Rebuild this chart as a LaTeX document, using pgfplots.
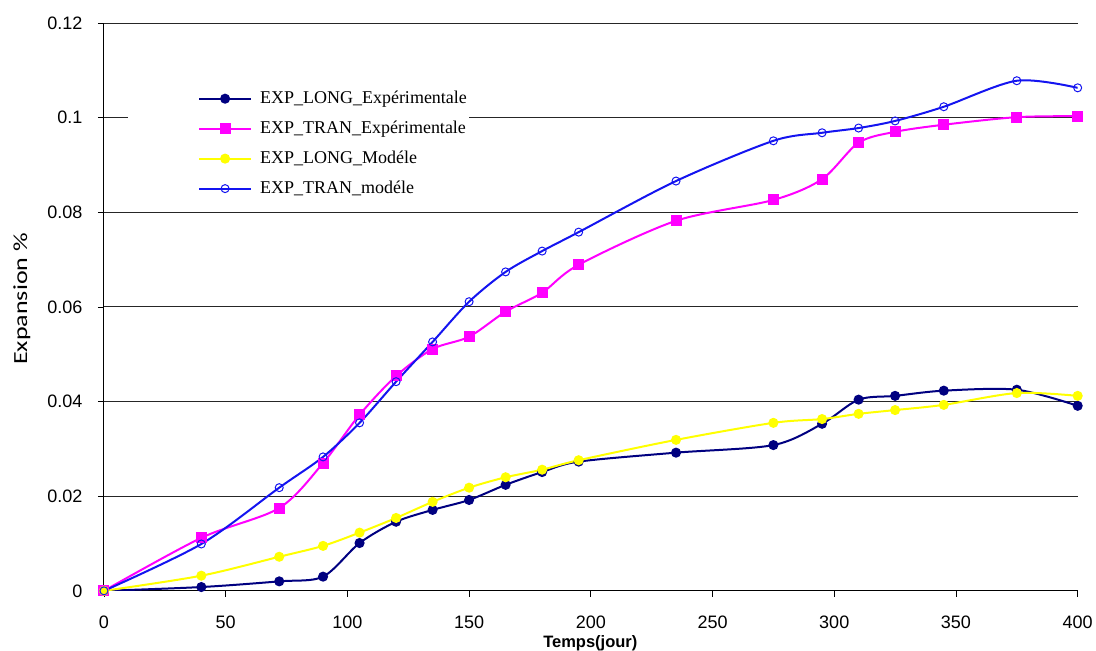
\documentclass[border=0pt]{standalone}
\usepackage{fontspec}
\setmainfont{Liberation Sans}
\newfontfamily\legfont{Liberation Serif}
\newfontfamily\ylabfont{Carlito}
\usepackage{graphicx}
\usepackage{pgfplots}
\pgfplotsset{compat=1.18}
\usepackage{pgfplotstable}
\definecolor{cnavy}{RGB}{0,0,128}
\definecolor{cmag}{RGB}{255,0,255}
\definecolor{cyel}{RGB}{255,255,0}
\definecolor{cblue}{RGB}{20,20,240}
\pgfplotstableread{
x y
0 0
40 0.0008
72 0.0020
90 0.0030
105 0.0101
120 0.0146
135 0.0171
150 0.0192
165 0.0224
180 0.0251
195 0.0273
235 0.0292
275 0.0308
295 0.0353
310 0.0404
325 0.0412
345 0.0423
375 0.0425
400 0.0391
}\longexp
\pgfplotstableread{
x y
0 0
40 0.0112
72 0.0175
90 0.0270
105 0.0372
120 0.0454
135 0.0511
150 0.0537
165 0.0590
180 0.0630
195 0.0689
235 0.0782
275 0.0826
295 0.0870
310 0.0947
325 0.0970
345 0.0985
375 0.1001
400 0.1003
}\tranexp
\pgfplotstableread{
x y
0 0
40 0.0032
72 0.0072
90 0.0095
105 0.0123
120 0.0154
135 0.0188
150 0.0218
165 0.0240
180 0.0256
195 0.0276
235 0.0319
275 0.0355
295 0.0363
310 0.0374
325 0.0382
345 0.0393
375 0.0418
400 0.0412
}\longmod
\pgfplotstableread{
x y
0 0
40 0.0099
72 0.0218
90 0.0283
105 0.0355
120 0.0442
135 0.0526
150 0.0611
165 0.0674
180 0.0718
195 0.0758
235 0.0866
275 0.0951
295 0.0968
310 0.0978
325 0.0993
345 0.1023
375 0.1078
400 0.1063
}\tranmod
\begin{document}
\begin{tikzpicture}
\begin{axis}[
  scale only axis,
  width=974bp, height=568bp,
  xmin=0, xmax=400, ymin=0, ymax=0.12,
  axis x line*=bottom, axis y line*=left,
  axis line style={black, line width=1bp},
  xtick={0,50,...,400},
  ytick={0,0.02,...,0.12},
  tick align=outside,
  major tick length=6bp,
  tick style={black, line width=0.8bp},
  ymajorgrids,
  grid style={black!85, line width=0.9bp},
  scaled y ticks=false,
  yticklabel style={/pgf/number format/fixed, /pgf/number format/precision=2, xshift=-12bp},
  xticklabel style={yshift=-16bp},
  /pgf/number format/assume math mode=true,
  ticklabel style={font=\fontsize{18bp}{21bp}\selectfont},
  xlabel={Temps(jour)},
  ylabel={\scalebox{1.3}[1]{Expansion \%}},
  xlabel style={font=\bfseries\fontsize{16.5bp}{19bp}\selectfont, at={(axis description cs:0.4995,-0.0915)}, anchor=center, inner sep=0pt},
  ylabel style={font=\ylabfont\fontsize{20bp}{24bp}\selectfont, at={(axis description cs:-0.0842,0.514)}, anchor=center},
  legend cell align=left,
  legend style={at={(0.0246,0.8996)}, anchor=north west, draw=none, fill=white,
    font=\legfont\fontsize{18bp}{20bp}\selectfont, row sep=9bp, inner xsep=0bp, inner ysep=8bp,
    nodes={text height=13bp, text depth=4bp}},
  legend image code/.code={\path (-66bp,0bp) (62bp,0bp); \draw[#1,mark repeat=2,mark phase=2] plot coordinates {(4bp,0bp) (30bp,0bp) (56bp,0bp)};},
]
\addplot[smooth, color=cnavy, line width=2bp, mark=*, mark size=4bp, mark options={fill=cnavy, draw=cnavy}] table {\longexp};
\addlegendentry{EXP\_LONG\_Expérimentale}
\addplot[smooth, color=cmag, line width=2bp, mark=square*, mark size=4.5bp, mark options={fill=cmag, draw=cmag}] table {\tranexp};
\addlegendentry{EXP\_TRAN\_Expérimentale}
\addplot[smooth, color=cyel, line width=2bp, mark=*, mark size=4bp, mark options={fill=cyel, draw=cyel}] table {\longmod};
\addlegendentry{EXP\_LONG\_Modéle}
\addplot[smooth, color=cblue, line width=2bp, mark=o, mark size=4bp, mark options={draw=cblue, line width=1bp, fill=none}] table {\tranmod};
\addlegendentry{EXP\_TRAN\_modéle}
\coordinate (tr) at (rel axis cs:1,1);
\coordinate (bl) at (rel axis cs:0,0);
\end{axis}
\path ([xshift=-104bp,yshift=-58bp]bl) rectangle ([xshift=18bp,yshift=23bp]tr);
\end{tikzpicture}
\end{document}
